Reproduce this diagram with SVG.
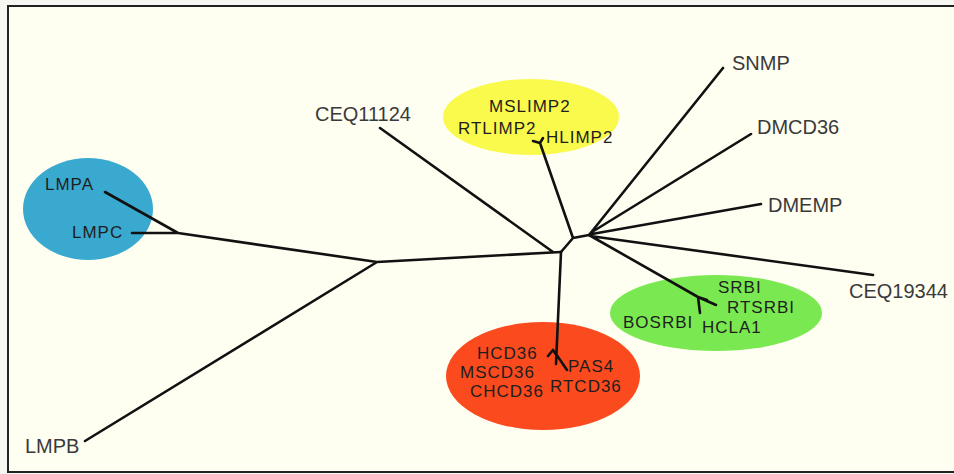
<svg xmlns="http://www.w3.org/2000/svg" width="954" height="474" viewBox="0 0 954 474">
<style>
.lbl{font-family:"Liberation Sans",Arial,sans-serif;font-size:20px;fill:#3a3a3a}
.cl{font-family:"Liberation Sans",Arial,sans-serif;font-size:17px;letter-spacing:1px;fill:#1e1e1e}
.br{fill:none;stroke:#111;stroke-width:2.6;stroke-linecap:round;stroke-linejoin:round}
</style>
<rect x="0" y="0" width="954" height="474" fill="#f6f6f2"/>
<rect x="8" y="6" width="950" height="466" fill="#fefef1" stroke="#222" stroke-width="2"/>
<g id="cluster-blue"><ellipse cx="88" cy="209" rx="65" ry="51" fill="#3aa9cf"/><text class="cl" x="45" y="190">LMPA</text><text class="cl" x="72" y="238">LMPC</text></g>
<g id="cluster-yellow"><ellipse cx="531" cy="117" rx="88" ry="38" fill="#fafa4c"/><text class="cl" x="489" y="112">MSLIMP2</text><text class="cl" x="458" y="134">RTLIMP2</text><text class="cl" x="546" y="143">HLIMP2</text></g>
<g id="cluster-green"><ellipse cx="716" cy="313" rx="106" ry="38" fill="#7ae850"/><text class="cl" x="718" y="293">SRBI</text><text class="cl" x="727" y="313">RTSRBI</text><text class="cl" x="623" y="328">BOSRBI</text><text class="cl" x="702" y="333">HCLA1</text></g>
<g id="cluster-red"><ellipse cx="543" cy="376" rx="97" ry="54" fill="#fa4a1e"/><text class="cl" x="477" y="359">HCD36</text><text class="cl" x="460" y="378">MSCD36</text><text class="cl" x="470" y="397">CHCD36</text><text class="cl" x="568" y="372">PAS4</text><text class="cl" x="550" y="392">RTCD36</text></g>
<g id="leaf-SNMP"><text class="lbl" x="732" y="70">SNMP</text></g>
<g id="leaf-DMCD36"><text class="lbl" x="757" y="134">DMCD36</text></g>
<g id="leaf-DMEMP"><text class="lbl" x="768" y="212">DMEMP</text></g>
<g id="leaf-CEQ19344"><text class="lbl" x="849" y="298">CEQ19344</text></g>
<g id="leaf-CEQ11124"><text class="lbl" x="315" y="121">CEQ11124</text></g>
<g id="leaf-LMPB"><text class="lbl" x="25" y="453">LMPB</text></g>
<g id="connectors">
<path class="br" d="M105,192 L178,233 M132,233 L178,233 L377,262 L561,252 M85,441 L377,262"/>
<path class="br" d="M380,128 L553,252"/>
<path class="br" d="M561,252 L556,364 M548,356 L553,350 L557,356 M556,354 L567,370"/>
<path class="br" d="M561,252 L573,238 L589,235 M573,238 L540,143 M533,141 L540,143 L543,138"/>
<path class="br" d="M589,235 L723,68 M592,232 L751,134 M592,234 L761,204 M590,236 L873,275 M589,235 L698,297 L716,305 M698,297 L700,313 M698,297 L707,300"/>
</g>
</svg>
